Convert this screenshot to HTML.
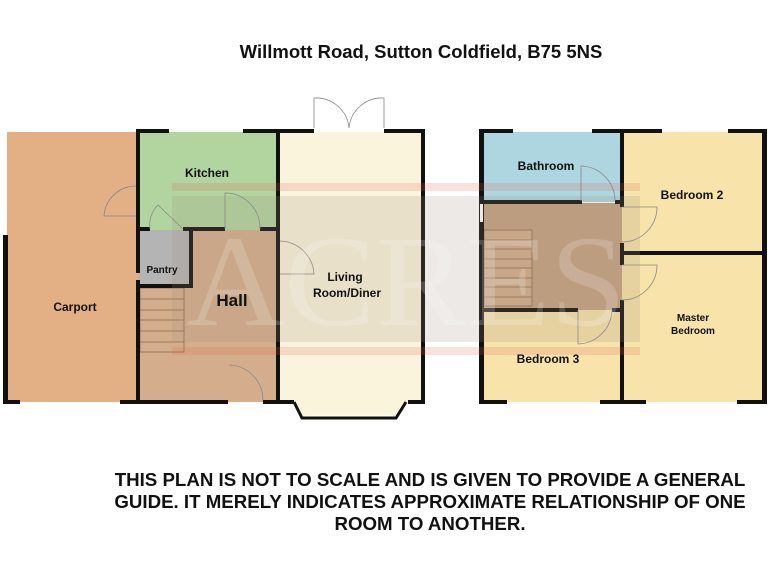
<!DOCTYPE html>
<html><head><meta charset="utf-8"><style>
html,body{margin:0;padding:0;background:#fff;}
svg{display:block;}
text{font-family:"Liberation Sans",sans-serif;font-weight:bold;fill:#111;}
</style></head><body>
<svg width="768" height="576" viewBox="0 0 768 576" xmlns="http://www.w3.org/2000/svg">
<text x="421" y="58" font-size="18.5" text-anchor="middle">Willmott Road, Sutton Coldfield, B75 5NS</text>

<rect x="7" y="132" width="131" height="270" fill="#e2b084"/>
<rect x="138" y="132" width="140" height="98" fill="#b2d5a0"/>
<rect x="138" y="230" width="140" height="172" fill="#d4ae8c"/>
<rect x="139" y="230" width="52" height="56" fill="#b4b4b4"/>
<rect x="278" y="132" width="145" height="270" fill="#fbf4dc"/>
<polygon points="294,402 406,402 396,417 302,417" fill="#fbf4dc"/>
<g stroke="#8a6a50" stroke-width="0.8" fill="none">
<rect x="140" y="288" width="44" height="64"/>
<line x1="140" y1="299" x2="184" y2="299"/><line x1="140" y1="310" x2="184" y2="310"/>
<line x1="140" y1="320" x2="184" y2="320"/><line x1="140" y1="331" x2="184" y2="331"/>
<line x1="140" y1="342" x2="184" y2="342"/>
</g>
<g fill="#111">
<rect x="136" y="129" width="4" height="144"/>
<rect x="136" y="280" width="4" height="124"/>
<rect x="136" y="129" width="33" height="4"/><rect x="243" y="129" width="40" height="4"/>
<rect x="276" y="129" width="4" height="275"/>
<rect x="280" y="129" width="34" height="4"/><rect x="384" y="129" width="41" height="4"/>
<rect x="421" y="129" width="4" height="275"/>
<rect x="3" y="235" width="5" height="169"/>
<rect x="3" y="400" width="17" height="4"/><rect x="120" y="400" width="20" height="4"/>
<rect x="136" y="400" width="92" height="4"/><rect x="263" y="400" width="17" height="4"/>
<rect x="276" y="400" width="18" height="4"/><rect x="408" y="400" width="17" height="4"/>
<rect x="138" y="227" width="12" height="4"/><rect x="183" y="227" width="42" height="4"/><rect x="260" y="227" width="18" height="4"/>
<rect x="189" y="229" width="4" height="59"/><rect x="138" y="284" width="55" height="4"/>
</g>
<polyline points="294,402 302,418 396,418 406,402" fill="none" stroke="#111" stroke-width="3"/>
<line x1="305" y1="416" x2="393" y2="416" stroke="#fff" stroke-width="1"/>
<g fill="none" stroke="#888" stroke-width="0.8">
<path d="M136 186 A32 32 0 0 0 104 216 L136 216"/>
<path d="M225 229 L225 193 A35 35 0 0 1 260 229"/>
<path d="M280 241 A35 35 0 0 1 314 274 L280 274"/>
<path d="M229 365 A35 35 0 0 1 263 400"/>
<path d="M150 229 A28 28 0 0 1 158 205 L183 229"/>
<path d="M314 128 L314 98 A33 33 0 0 1 349 128 M384 128 L384 98 A33 33 0 0 0 349 128"/>
</g>

<rect x="482" y="132" width="140" height="70" fill="#add6e0"/>
<rect x="622" y="132" width="142" height="120" fill="#f8e3aa"/>
<rect x="482" y="203" width="140" height="107" fill="#c4a282"/>
<rect x="482" y="310" width="140" height="92" fill="#f8e3aa"/>
<rect x="622" y="254" width="142" height="148" fill="#f8e3aa"/>
<g stroke="#8a6a50" stroke-width="0.8" fill="#d2ae8c">
<rect x="484" y="230" width="48" height="76"/>
<line x1="484" y1="240" x2="532" y2="240"/><line x1="484" y1="249" x2="532" y2="249"/>
<line x1="484" y1="259" x2="532" y2="259"/><line x1="484" y1="268" x2="532" y2="268"/>
<line x1="484" y1="278" x2="532" y2="278"/><line x1="484" y1="287" x2="532" y2="287"/>
<line x1="484" y1="297" x2="532" y2="297"/>
</g>
<g fill="#111">
<rect x="479" y="129" width="5" height="275"/><rect x="762" y="129" width="5" height="275"/>
<rect x="479" y="129" width="34" height="4"/><rect x="592" y="129" width="70" height="4"/><rect x="728" y="129" width="39" height="4"/>
<rect x="479" y="400" width="28" height="4"/><rect x="600" y="400" width="46" height="4"/><rect x="737" y="400" width="30" height="4"/>
<rect x="620" y="129" width="4" height="78"/><rect x="620" y="243" width="4" height="22"/><rect x="620" y="300" width="4" height="104"/>
<rect x="482" y="200" width="100" height="4"/><rect x="615" y="200" width="7" height="4"/>
<rect x="622" y="251" width="145" height="4"/>
<rect x="482" y="308" width="96" height="4"/><rect x="612" y="308" width="10" height="4"/>
</g>
<rect x="480" y="204" width="3" height="18" fill="#fff"/>
<g fill="none" stroke="#888" stroke-width="0.8">
<path d="M581 201 L581 166 A35 35 0 0 1 615 201"/>
<path d="M622 207 L657 207 A35 35 0 0 1 622 242"/>
<path d="M622 265 L657 265 A35 35 0 0 1 622 300"/>
<path d="M578 310 L578 344 A35 35 0 0 0 612 310"/>
</g>

<g opacity="0.18">
<rect x="172" y="183" width="468" height="8" fill="#e06050"/>
<rect x="172" y="347" width="468" height="8" fill="#e06050"/>
<rect x="172" y="196" width="468" height="146" fill="#9a8a7a"/>
</g>
<text x="406" y="325" font-size="130" text-anchor="middle" style="font-family:'Liberation Serif',serif;font-weight:normal;fill:#fff;opacity:0.18" textLength="440" lengthAdjust="spacingAndGlyphs">ACRES</text>

<text x="207" y="177" font-size="12" text-anchor="middle">Kitchen</text>
<text x="162" y="273" font-size="10" text-anchor="middle">Pantry</text>
<text x="232" y="306" font-size="17" text-anchor="middle">Hall</text>
<text x="75" y="311" font-size="12" text-anchor="middle">Carport</text>
<text x="345" y="281" font-size="12" text-anchor="middle">Living</text>
<text x="347" y="297" font-size="12" text-anchor="middle">Room/Diner</text>
<text x="546" y="170" font-size="12" text-anchor="middle">Bathroom</text>
<text x="692" y="199" font-size="12" text-anchor="middle">Bedroom 2</text>
<text x="693" y="321" font-size="10" text-anchor="middle">Master</text>
<text x="693" y="334" font-size="10" text-anchor="middle">Bedroom</text>
<text x="548" y="363" font-size="12" text-anchor="middle">Bedroom 3</text>

<text x="430" y="486" font-size="18.7" text-anchor="middle">THIS PLAN IS NOT TO SCALE AND IS GIVEN TO PROVIDE A GENERAL</text>
<text x="430" y="508" font-size="18.7" text-anchor="middle">GUIDE. IT MERELY INDICATES APPROXIMATE RELATIONSHIP OF ONE</text>
<text x="430" y="530" font-size="18.7" text-anchor="middle">ROOM TO ANOTHER.</text>
</svg>
</body></html>
